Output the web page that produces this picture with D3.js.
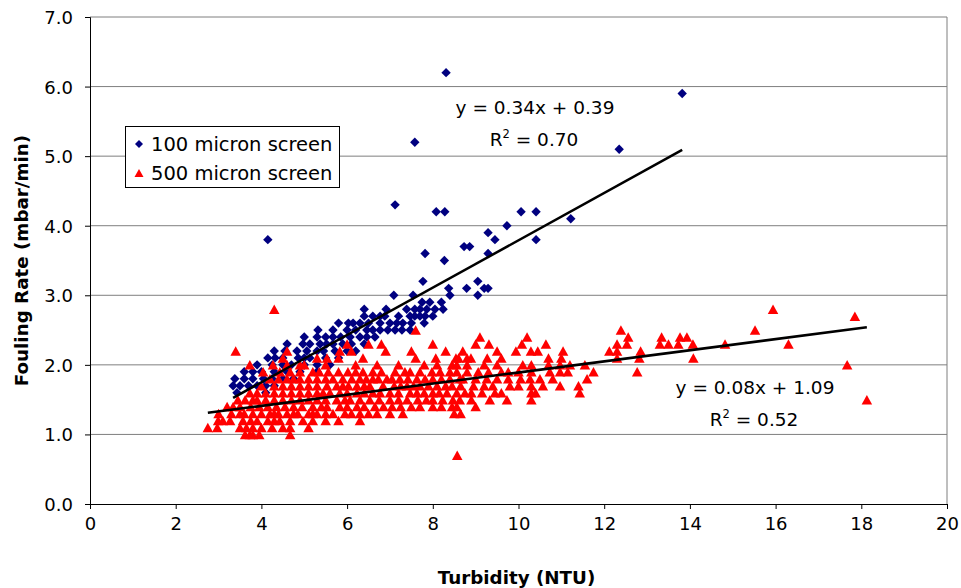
<!DOCTYPE html>
<html>
<head>
<meta charset="utf-8">
<script src="https://cdn.jsdelivr.net/npm/d3@7/dist/d3.min.js"></script>
<style>
  html, body { margin: 0; padding: 0; background: #fff; }
  svg { display: block; font-family: "DejaVu Sans", Arial, Helvetica, sans-serif; }
</style>
</head>
<body>
<svg id="chart" width="961" height="588"></svg>
<script>
// Fouling rate readings, grouped by rate (mbar/min); each group lists turbidity values (NTU)
const screen100Rows = [
  [1.6, [3.43, 4.1]],
  [1.7, [3.34, 3.5, 3.7, 3.9, 4.1, 4.3]],
  [1.8, [3.38, 3.6, 3.8, 4.05, 4.25, 4.5, 4.75]],
  [1.9, [3.6, 3.8, 4.0, 4.3, 4.6, 4.9, 5.3]],
  [2.0, [3.9, 4.25, 4.5, 4.7, 5.0, 5.3, 5.6]],
  [2.1, [4.15, 4.32, 4.5, 4.86, 5.0, 5.13, 5.5, 5.8]],
  [2.2, [4.3, 4.55, 4.83, 5.06, 5.3, 5.45, 5.72, 6.0, 6.2]],
  [2.3, [4.6, 4.97, 5.13, 5.37, 5.52, 5.67, 5.9, 6.1, 6.4]],
  [2.4, [5.0, 5.3, 5.5, 5.67, 5.85, 6.07, 6.3, 6.46, 6.65]],
  [2.5, [5.32, 5.67, 6.0, 6.2, 6.46, 6.6, 6.77, 6.95, 7.12, 7.28, 7.47]],
  [2.6, [5.8, 6.03, 6.14, 6.3, 6.5, 6.77, 7.0, 7.16, 7.3, 7.5, 7.8]],
  [2.7, [6.4, 6.6, 6.77, 6.88, 7.2, 7.47, 7.58, 7.7, 7.82, 8.0]],
  [2.8, [6.4, 6.91, 7.39, 7.58, 7.7, 7.86, 8.05, 8.24]],
  [2.9, [7.75, 7.93, 8.2]],
  [3.0, [7.09, 7.54, 8.4, 9.05]],
  [3.1, [8.37, 8.79, 9.2, 9.29]],
  [3.2, [7.77, 9.05]],
  [3.5, [8.27]],
  [3.6, [7.82, 9.29]],
  [3.7, [8.73, 8.86]],
  [3.8, [4.15, 9.45, 10.41]],
  [3.9, [9.29]],
  [4.0, [9.73]],
  [4.1, [11.22]],
  [4.2, [8.08, 8.28, 10.06, 10.41]],
  [4.3, [7.12]],
  [5.1, [12.35]],
  [5.2, [7.58]],
  [5.9, [13.82]],
  [6.2, [8.31]]
];

const screen500Rows = [
  [0.7, [8.57]],
  [1.0, [3.62, 3.73, 3.8, 3.95, 4.67]],
  [1.1, [2.75, 2.97, 3.5, 3.65, 3.8, 4.0, 4.25, 4.5, 4.67, 5.1]],
  [1.2, [2.99, 3.1, 3.27, 3.57, 3.75, 3.9, 4.15, 4.3, 4.43, 4.67, 4.97, 5.2, 5.5, 5.8, 6.3]],
  [1.3, [3.0, 3.3, 3.5, 3.6, 3.8, 4.0, 4.2, 4.3, 4.4, 4.6, 4.75, 4.85, 5.1, 5.2, 5.3, 5.5, 5.67, 5.95, 6.1, 6.3, 6.5, 6.7, 7.0, 7.3, 8.5, 8.65]],
  [1.4, [3.2, 3.34, 3.5, 3.75, 3.95, 4.15, 4.35, 4.55, 4.75, 4.95, 5.2, 5.4, 5.53, 5.83, 6.0, 6.23, 6.4, 6.65, 6.85, 7.05, 7.25, 7.5, 7.7, 8.0, 8.2, 8.45, 8.56, 9.0]],
  [1.5, [3.45, 3.62, 3.8, 3.9, 4.1, 4.3, 4.5, 4.7, 4.9, 5.1, 5.3, 5.5, 5.76, 5.95, 6.07, 6.3, 6.53, 6.75, 7.0, 7.2, 7.4, 7.65, 7.85, 8.0, 8.23, 8.47, 8.63, 8.9, 9.33, 9.73, 10.3, 18.13]],
  [1.6, [3.73, 3.9, 4.1, 4.3, 4.5, 4.7, 4.9, 5.1, 5.3, 5.44, 5.6, 5.83, 6.0, 6.23, 6.4, 6.6, 6.77, 7.0, 7.2, 7.47, 7.63, 7.8, 8.0, 8.15, 8.33, 8.56, 8.75, 8.9, 9.15, 9.45, 9.6, 10.3, 10.4, 11.43]],
  [1.7, [4.0, 4.3, 4.5, 4.7, 4.9, 5.1, 5.3, 5.53, 5.76, 5.9, 6.03, 6.23, 6.4, 6.53, 6.84, 7.1, 7.25, 7.4, 7.55, 7.7, 7.9, 8.1, 8.3, 8.45, 8.65, 8.95, 9.2, 9.4, 9.8, 10.0, 10.3, 10.57, 10.97, 11.4]],
  [1.8, [4.2, 4.4, 4.6, 4.75, 4.9, 5.1, 5.3, 5.5, 5.67, 5.9, 6.11, 6.3, 6.45, 6.6, 6.73, 6.93, 7.05, 7.23, 7.42, 7.63, 7.82, 8.0, 8.2, 8.4, 8.63, 8.7, 9.0, 9.26, 9.5, 9.76, 10.05, 10.27, 10.5, 10.8, 11.6]],
  [1.9, [4.04, 4.43, 4.67, 4.9, 5.2, 5.35, 5.56, 5.8, 6.02, 6.2, 6.37, 6.6, 6.8, 7.12, 7.35, 7.47, 7.7, 7.98, 8.17, 8.4, 8.56, 8.8, 9.06, 9.3, 9.6, 9.76, 10.0, 10.3, 10.73, 10.97, 11.15, 11.75, 12.77]],
  [2.0, [3.73, 4.27, 4.6, 4.9, 5.0, 5.5, 6.2, 6.7, 7.2, 7.8, 8.1, 8.45, 8.56, 8.8, 9.2, 9.5, 10.1, 10.3, 10.7, 10.97, 11.2, 11.55, 17.67]],
  [2.1, [4.5, 5.3, 5.53, 5.8, 6.37, 7.6, 8.07, 8.54, 8.6, 8.8, 8.89, 9.27, 9.6, 10.7, 11.0, 12.3, 12.82, 14.08]],
  [2.2, [3.4, 4.6, 5.83, 6.1, 6.9, 7.5, 8.3, 8.7, 9.5, 9.94, 10.29, 10.45, 11.04, 12.12, 12.3, 12.85]],
  [2.3, [6.0, 6.5, 6.8, 8.0, 9.0, 9.31, 10.08, 10.64, 12.3, 12.53, 13.3, 13.5, 13.73, 14.07, 14.82, 16.3]],
  [2.4, [9.1, 10.2, 12.56, 13.34, 13.77, 13.93]],
  [2.5, [7.6, 12.39, 15.52]],
  [2.7, [17.85]],
  [2.8, [4.3, 15.94]]
];

// Linear fits reported for each screen
const seriesNames = ["100 micron screen", "500 micron screen"];
const seriesColors = ["#000080", "#ff0000"];
const fitSlopes = [0.34, 0.08];
const fitIntercepts = [0.39, 1.09];
const fitR2 = ["0.70", "0.52"];

const xTicks = [0, 2, 4, 6, 8, 10, 12, 14, 16, 18, 20];
const yTicks = [0, 1, 2, 3, 4, 5, 6, 7];

const flatten = rows => rows.flatMap(([rate, xs]) => xs.map(t => ({ x: t, y: rate })));
const series = [flatten(screen100Rows), flatten(screen500Rows)];

const svg = d3.select("#chart");
const margin = { left: 90, right: 14, top: 17, bottom: 84 };
const W = 961, H = 588;

const x = d3.scaleLinear().domain([0, 20]).range([margin.left, W - margin.right]);
const y = d3.scaleLinear().domain([0, 7]).range([H - margin.bottom, margin.top]);

// horizontal gridlines
svg.append("g")
  .selectAll("line")
  .data(yTicks.slice(1))
  .join("line")
  .attr("x1", x(0)).attr("x2", x(20))
  .attr("y1", d => y(d)).attr("y2", d => y(d))
  .attr("stroke", "#7f7f7f").attr("stroke-width", 1);

// plot-area border on the right
svg.append("line")
  .attr("x1", x(20)).attr("x2", x(20))
  .attr("y1", y(7)).attr("y2", y(0))
  .attr("stroke", "#7f7f7f");

// axes
const xAxis = svg.append("g")
  .attr("transform", `translate(0,${y(0)})`)
  .call(d3.axisBottom(x).tickValues(xTicks).tickFormat(d3.format("d")).tickSizeOuter(0).tickSize(5).tickPadding(6));
const yAxis = svg.append("g")
  .attr("transform", `translate(${x(0)},0)`)
  .call(d3.axisLeft(y).tickValues(yTicks).tickFormat(d3.format(".1f")).tickSizeOuter(0).tickSize(5).tickPadding(12));
[xAxis, yAxis].forEach(g => {
  g.selectAll("path.domain").attr("stroke", "#000").attr("stroke-width", 1);
  g.selectAll(".tick line").attr("stroke", "#000");
  g.selectAll(".tick text").attr("font-size", 18).attr("fill", "#000")
    .attr("font-family", "'DejaVu Sans', Arial, sans-serif");
});
xAxis.selectAll(".tick text").attr("dy", "0.82em");
yAxis.selectAll(".tick text").attr("dy", "0.36em");

// axis titles
svg.append("text")
  .attr("x", (x(0) + x(20)) / 2 - 2).attr("y", 584)
  .attr("text-anchor", "middle").attr("font-size", 18.3).attr("font-weight", "bold")
  .text("Turbidity (NTU)");
svg.append("text")
  .attr("transform", `translate(28,${(y(0) + y(7)) / 2}) rotate(-90)`)
  .attr("text-anchor", "middle").attr("font-size", 18.3).attr("font-weight", "bold")
  .text("Fouling Rate (mbar/min)");

// marker shapes
const diamond = (cx, cy, r) => `M${cx},${cy - r}L${cx + r},${cy}L${cx},${cy + r}L${cx - r},${cy}Z`;
const triangle = (cx, cy, w, h) => `M${cx},${cy - h / 2}L${cx + w / 2},${cy + h / 2}L${cx - w / 2},${cy + h / 2}Z`;
const markerPath = [
  (cx, cy) => diamond(cx, cy, 4.7),
  (cx, cy) => triangle(cx, cy, 10.5, 9.5)
];

series.forEach((pts, i) => {
  svg.append("g")
    .selectAll("path")
    .data(pts)
    .join("path")
    .attr("d", d => markerPath[i](x(d.x), y(d.y)))
    .attr("fill", seriesColors[i]);
});

// trendlines spanning each series' turbidity range
series.forEach((pts, i) => {
  const [lo, hi] = d3.extent(pts, d => d.x);
  const f = t => fitSlopes[i] * t + fitIntercepts[i];
  svg.append("line")
    .attr("x1", x(lo)).attr("y1", y(f(lo)))
    .attr("x2", x(hi)).attr("y2", y(f(hi)))
    .attr("stroke", "#000").attr("stroke-width", 2.5);
});

// fit equations
const eqPos = [[535, 114, 146], [755, 394, 426]];
series.forEach((pts, i) => {
  const [cx, y1, y2] = eqPos[i];
  svg.append("text")
    .attr("x", cx).attr("y", y1)
    .attr("text-anchor", "middle").attr("font-size", 18.5)
    .text(`y = ${fitSlopes[i].toFixed(2)}x + ${fitIntercepts[i].toFixed(2)}`);
  const r = svg.append("text")
    .attr("x", cx - 1).attr("y", y2)
    .attr("text-anchor", "middle").attr("font-size", 18.5);
  r.append("tspan").text("R");
  r.append("tspan").attr("font-size", 11.5).attr("dy", -8).text("2");
  r.append("tspan").attr("dy", 8).text(" = " + fitR2[i]);
});

// legend
const legend = svg.append("g");
legend.append("rect")
  .attr("x", 125.5).attr("y", 126.5).attr("width", 214).attr("height", 61)
  .attr("fill", "#fff").attr("stroke", "#000").attr("stroke-width", 1);
seriesNames.forEach((name, i) => {
  const cy = 144 + i * 29;
  legend.append("path")
    .attr("d", i === 0 ? diamond(139, cy, 4) : triangle(139, cy, 9, 8))
    .attr("fill", seriesColors[i]);
  legend.append("text")
    .attr("x", 151).attr("y", cy + 7)
    .attr("font-size", 19.5)
    .text(name);
});
</script>
</body>
</html>
